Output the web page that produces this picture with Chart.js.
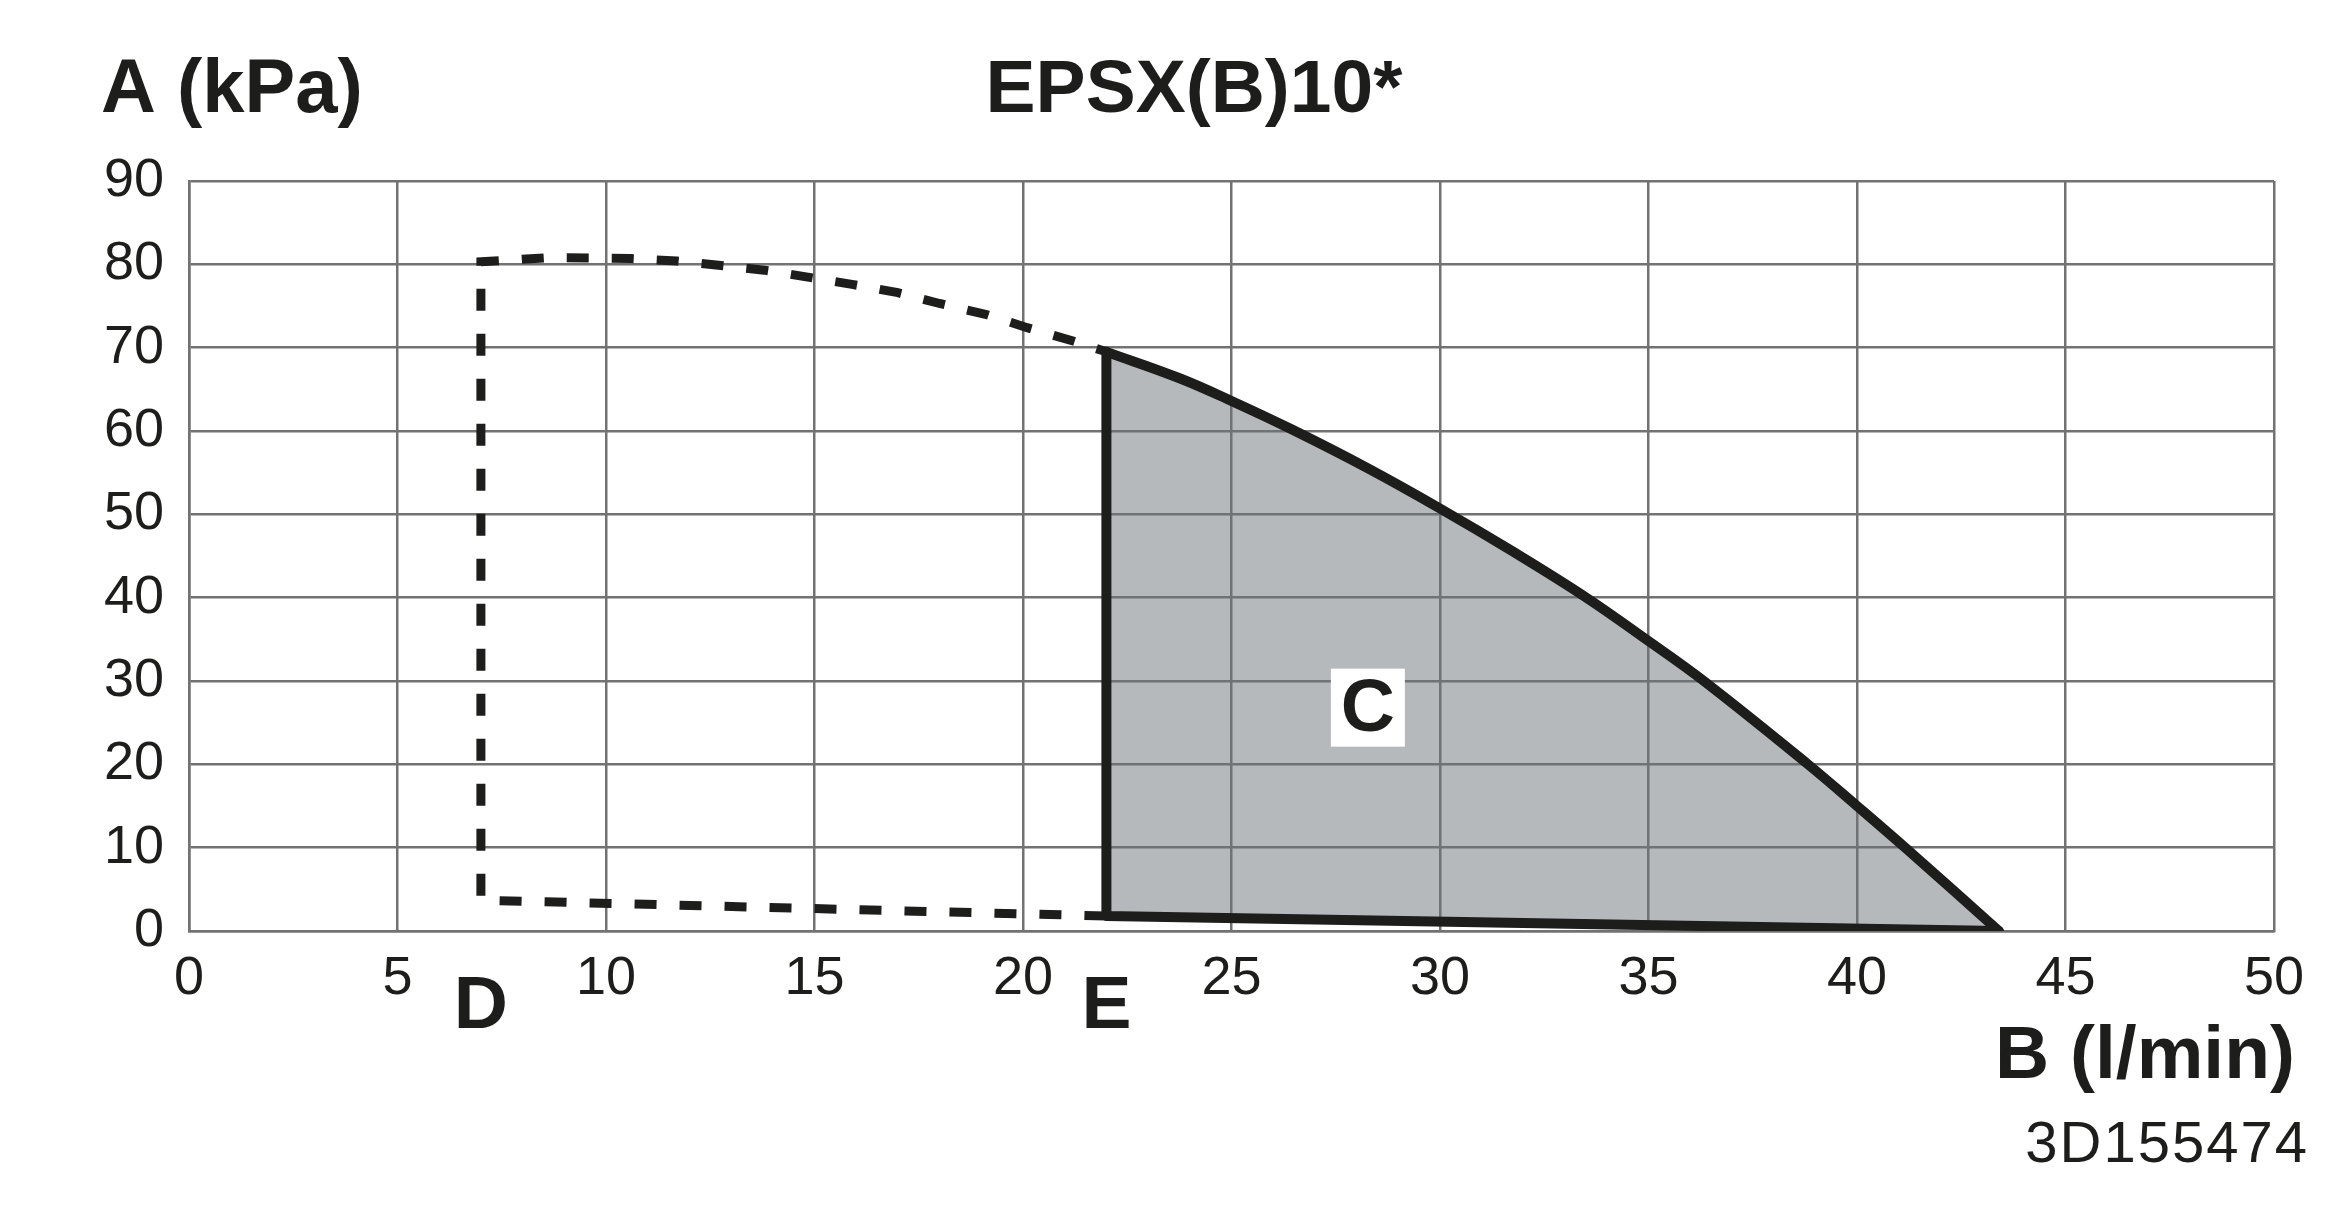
<!DOCTYPE html>
<html>
<head>
<meta charset="utf-8">
<title>EPSX(B)10*</title>
<script src="https://cdn.jsdelivr.net/npm/chart.js@4/dist/chart.umd.min.js"></script>
<style>
  html, body { margin: 0; padding: 0; background: #fff; }
  #wrap { width: 2332px; height: 1210px; position: relative; }
</style>
</head>
<body>
<div id="wrap"><canvas id="chart"></canvas></div>
<script>
// ticks
const xTicks = [0, 5, 10, 15, 20, 25, 30, 35, 40, 45, 50];
const yTicks = [0, 10, 20, 30, 40, 50, 60, 70, 80, 90];

// dashed outline (D -> E)
const dashX = [22, 7, 7, 8.6, 10.6, 11.7, 12.7, 13.8, 14.8, 15.9, 17, 18, 19.1, 20.1, 21.2, 22];
const dashY = [1.8, 3.7, 80.3, 80.8, 80.7, 80.4, 79.9, 79.3, 78.5, 77.6, 76.6, 75.3, 74.0, 72.4, 70.8, 69.5];

// upper curve of the operating range C
const curveX = [22, 23.77, 25, 26.44, 28.24, 30, 31.76, 33.48, 35, 36.3, 38.8, 40, 41.2, 43.4];
const curveY = [69.5, 66.3, 63.6, 60.2, 55.6, 50.7, 45.5, 40.1, 34.8, 30.1, 20.1, 15.0, 9.8, 0];

// lower edge and vertical edge at E
const edgeX = [43.4, 22, 22];
const edgeY = [0, 1.8, 69.5];

const pts = (xs, ys) => xs.map((x, i) => ({ x: x, y: ys[i] }));

const INK = "#1d1d1b";
const GRID = "#727272";
const FONT = "'Liberation Sans', Arial, sans-serif";

// area C = curve + lower edge back to E
const areaPts = pts(curveX, curveY).concat(pts(edgeX.slice(1, 2), edgeY.slice(1, 2)));

const labels = {
  id: "labels",
  afterDraw(chart) {
    const c = chart.ctx, xs = chart.scales.x, ys = chart.scales.y;
    c.save();
    c.fillStyle = INK;
    c.textBaseline = "alphabetic";

    c.font = "bold 76px " + FONT;
    c.textAlign = "left";
    c.fillText("A (kPa)", 101, 112);

    c.font = "bold 75px " + FONT;
    c.textAlign = "center";
    c.fillText("EPSX(B)10*", 1194, 112);

    c.fillText("D", xs.getPixelForValue(7), 1028);
    c.fillText("E", xs.getPixelForValue(22), 1028);

    c.textAlign = "right";
    c.fillText("B (l/min)", 2295, 1078);

    c.font = "58px " + FONT;
    c.letterSpacing = "2px";
    c.fillText("3D155474", 2309, 1162);
    c.letterSpacing = "0px";

    // C label in a white box
    const cx = xs.getPixelForValue(28.27), cy = ys.getPixelForValue(26.8);
    c.fillStyle = "#fff";
    c.fillRect(cx - 37, cy - 39, 74, 78);
    c.fillStyle = INK;
    c.font = "bold 75px " + FONT;
    c.textAlign = "center";
    c.textBaseline = "middle";
    c.fillText("C", cx, cy + 3);
    c.restore();
  }
};

new Chart(document.getElementById("chart"), {
  type: "scatter",
  data: {
    datasets: [
      {
        label: "D-E",
        data: pts(dashX, dashY),
        showLine: true,
        borderColor: INK,
        borderWidth: 9,
        borderDash: [22, 23],
        pointRadius: 0,
        tension: 0
      },
      {
        label: "curve",
        data: pts(curveX, curveY),
        showLine: true,
        borderColor: INK,
        borderWidth: 10,
        tension: 0.4,
        borderCapStyle: "round",
        pointRadius: 0
      },
      {
        label: "edge",
        data: pts(edgeX, edgeY),
        showLine: true,
        borderColor: INK,
        borderWidth: 10,
        borderCapStyle: "round",
        borderJoinStyle: "round",
        pointRadius: 0,
        tension: 0
      },
      {
        // drawn first (last in list), semi-transparent so the grid shows through
        label: "C",
        data: areaPts,
        showLine: true,
        fill: "shape",
        backgroundColor: "rgba(110,116,122,0.5)",
        borderColor: "rgba(0,0,0,0)",
        borderWidth: 1,
        pointRadius: 0,
        tension: 0
      }
    ]
  },
  options: {
    responsive: true,
    maintainAspectRatio: false,
    animation: false,
    layout: { padding: { left: 0, top: 181, right: 58, bottom: 0 } },
    plugins: { legend: { display: false }, tooltip: { enabled: false } },
    scales: {
      x: {
        type: "linear",
        min: 0, max: 50,
        afterBuildTicks: s => { s.ticks = xTicks.map(v => ({ value: v })); },
        afterFit: s => { s.height = 279; },
        grid: { color: GRID, lineWidth: 2.5, drawTicks: false },
        border: { color: GRID, width: 2.5 },
        ticks: { color: INK, padding: 16, maxRotation: 0, font: { family: FONT, size: 54 } }
      },
      y: {
        type: "linear",
        min: 0, max: 90,
        afterBuildTicks: s => { s.ticks = yTicks.map(v => ({ value: v })); },
        afterFit: s => { s.width = 189; },
        grid: { color: GRID, lineWidth: 2.5, drawTicks: false },
        border: { color: GRID, width: 2.5 },
        ticks: { color: INK, padding: 25, font: { family: FONT, size: 54 } }
      }
    }
  },
  plugins: [labels]
});
</script>
</body>
</html>
